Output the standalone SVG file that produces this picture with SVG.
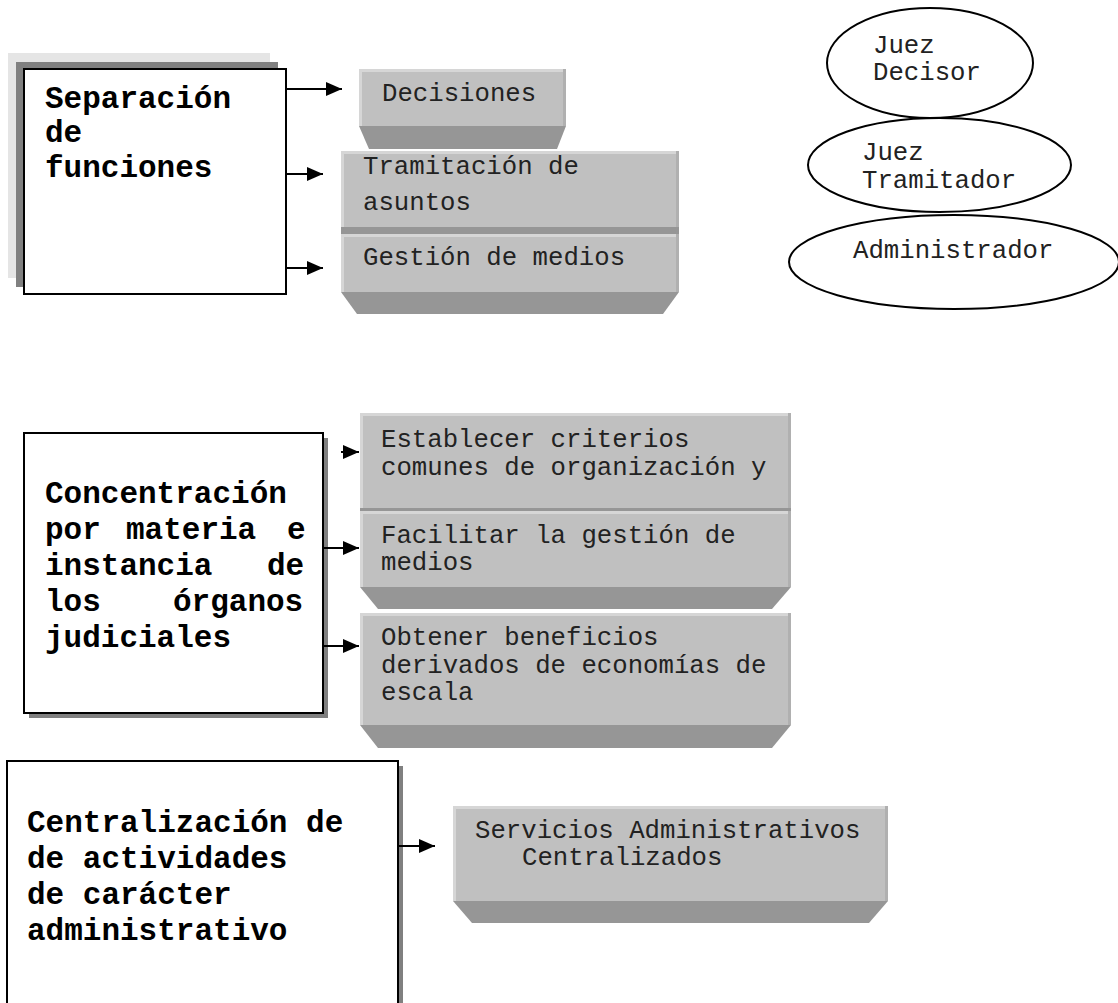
<svg xmlns="http://www.w3.org/2000/svg" width="1118" height="1003" viewBox="0 0 1118 1003">
<style>
.bold{font-family:"Liberation Mono","Courier New",monospace;font-weight:bold;font-size:31px;fill:#000}
.reg{font-family:"Liberation Mono","Courier New",monospace;font-size:25.7px;fill:#222}
.wbox{fill:#fff;stroke:#000;stroke-width:2}
.face{fill:#c0c0c0}
.hl{fill:#d6d6d6}
.dk{fill:#b0b0b0}
.bevel{fill:#969696}
.ell{fill:#fff;stroke:#000;stroke-width:2}
.conn{stroke:#000;stroke-width:2;fill:none}
</style>
<defs>
<marker id="arr" markerWidth="16" markerHeight="14" refX="16" refY="7" orient="auto" markerUnits="userSpaceOnUse">
<path d="M0,0 L16,7 L0,14 Z" fill="#000"/>
</marker>
</defs>
<rect width="1118" height="1003" fill="#fff"/>

<!-- Group 1 -->
<g id="separacion">
<rect x="8" y="53" width="262" height="225" fill="#e5e5e5"/>
<rect x="16" y="62" width="262" height="225" fill="#808080"/>
<rect class="wbox" x="24" y="69" width="262" height="225"/>
<text class="bold" x="45" y="108">Separación</text>
<text class="bold" x="45" y="142">de</text>
<text class="bold" x="45" y="177">funciones</text>
</g>

<g id="decisiones">
<polygon class="bevel" points="359,126 566,126 557,149 369,149"/>
<rect class="face" x="359" y="69" width="207" height="57"/>
<rect class="hl" x="359" y="69" width="207" height="3"/>
<rect class="hl" x="359" y="69" width="3" height="57"/>
<rect class="dk" x="563" y="69" width="3" height="57"/>
<text class="reg" x="382" y="101">Decisiones</text>
</g>

<g id="tramitacion">
<rect class="bevel" x="341" y="226" width="338" height="8"/>
<rect class="face" x="341" y="151" width="338" height="76"/>
<rect class="hl" x="341" y="151" width="338" height="3"/>
<rect class="hl" x="341" y="151" width="3" height="76"/>
<rect class="dk" x="676" y="151" width="3" height="76"/>
<text class="reg" x="363" y="174">Tramitación de</text>
<text class="reg" x="363" y="210">asuntos</text>
</g>

<g id="gestion">
<polygon class="bevel" points="341,292 679,292 663,314 357,314"/>
<rect class="face" x="341" y="234" width="338" height="58"/>
<rect class="hl" x="341" y="234" width="338" height="3"/>
<rect class="hl" x="341" y="234" width="3" height="58"/>
<rect class="dk" x="676" y="234" width="3" height="58"/>
<text class="reg" x="363" y="265">Gestión de medios</text>
</g>

<g id="juez-decisor">
<ellipse class="ell" cx="930" cy="63" rx="103" ry="55"/>
<text class="reg" x="873" y="53">Juez</text>
<text class="reg" x="873" y="80">Decisor</text>
</g>
<g id="juez-tramitador">
<ellipse class="ell" cx="939.5" cy="165" rx="131.5" ry="47"/>
<text class="reg" x="862" y="160">Juez</text>
<text class="reg" x="862" y="188">Tramitador</text>
</g>
<g id="administrador">
<ellipse class="ell" cx="954" cy="262" rx="165" ry="47"/>
<text class="reg" x="853" y="258">Administrador</text>
</g>

<!-- Group 2 -->
<g id="concentracion">
<rect x="29" y="438" width="299" height="280" fill="#808080"/>
<rect class="wbox" x="24" y="433" width="299" height="280"/>
<text class="bold" x="45" y="503">Concentración</text>
<text class="bold" y="539"><tspan x="45">por</tspan><tspan x="126">materia</tspan><tspan x="287">e</tspan></text>
<text class="bold" y="575"><tspan x="45">instancia</tspan><tspan x="267">de</tspan></text>
<text class="bold" y="611"><tspan x="45">los</tspan><tspan x="173">órganos</tspan></text>
<text class="bold" x="45" y="647">judiciales</text>
</g>

<g id="establecer">
<rect class="bevel" x="360" y="506" width="431" height="6"/>
<rect class="face" x="360" y="413" width="431" height="95"/>
<rect class="hl" x="360" y="413" width="431" height="3"/>
<rect class="hl" x="360" y="413" width="3" height="95"/>
<rect class="dk" x="788" y="413" width="3" height="95"/>
<text class="reg" x="381" y="447">Establecer criterios</text>
<text class="reg" x="381" y="475">comunes de organización y</text>
</g>

<g id="facilitar">
<polygon class="bevel" points="360,587 791,587 772,609 378,609"/>
<rect class="face" x="360" y="511" width="431" height="76"/>
<rect class="hl" x="360" y="511" width="431" height="3"/>
<rect class="hl" x="360" y="511" width="3" height="76"/>
<rect class="dk" x="788" y="511" width="3" height="76"/>
<text class="reg" x="381" y="543">Facilitar la gestión de</text>
<text class="reg" x="381" y="570">medios</text>
</g>

<g id="obtener">
<polygon class="bevel" points="360,725 791,725 772,748 378,748"/>
<rect class="face" x="360" y="613" width="431" height="112"/>
<rect class="hl" x="360" y="613" width="431" height="3"/>
<rect class="hl" x="360" y="613" width="3" height="112"/>
<rect class="dk" x="788" y="613" width="3" height="112"/>
<text class="reg" x="381" y="645">Obtener beneficios</text>
<text class="reg" x="381" y="673">derivados de economías de</text>
<text class="reg" x="381" y="700">escala</text>
</g>

<!-- Group 3 -->
<g id="centralizacion">
<rect x="12" y="766" width="391" height="245" fill="#808080"/>
<rect class="wbox" x="7" y="761" width="391" height="245"/>
<text class="bold" x="27" y="832">Centralización de</text>
<text class="bold" x="27" y="868">de actividades</text>
<text class="bold" x="27" y="904">de carácter</text>
<text class="bold" x="27" y="940">administrativo</text>
</g>

<g id="servicios">
<polygon class="bevel" points="453,901 888,901 869,923 472,923"/>
<rect class="face" x="453" y="806" width="435" height="95"/>
<rect class="hl" x="453" y="806" width="435" height="3"/>
<rect class="hl" x="453" y="806" width="3" height="95"/>
<rect class="dk" x="885" y="806" width="3" height="95"/>
<text class="reg" x="475" y="838">Servicios Administrativos</text>
<text class="reg" x="522" y="865">Centralizados</text>
</g>

<g id="connectors">
<line class="conn" x1="286" y1="89" x2="342" y2="89" marker-end="url(#arr)"/>
<line class="conn" x1="286" y1="174" x2="323" y2="174" marker-end="url(#arr)"/>
<line class="conn" x1="286" y1="268" x2="323" y2="268" marker-end="url(#arr)"/>
<line class="conn" x1="341" y1="452" x2="359" y2="452" marker-end="url(#arr)"/>
<line class="conn" x1="323" y1="548" x2="359" y2="548" marker-end="url(#arr)"/>
<line class="conn" x1="323" y1="646" x2="359" y2="646" marker-end="url(#arr)"/>
<line class="conn" x1="398" y1="846" x2="435" y2="846" marker-end="url(#arr)"/>
</g>
</svg>
